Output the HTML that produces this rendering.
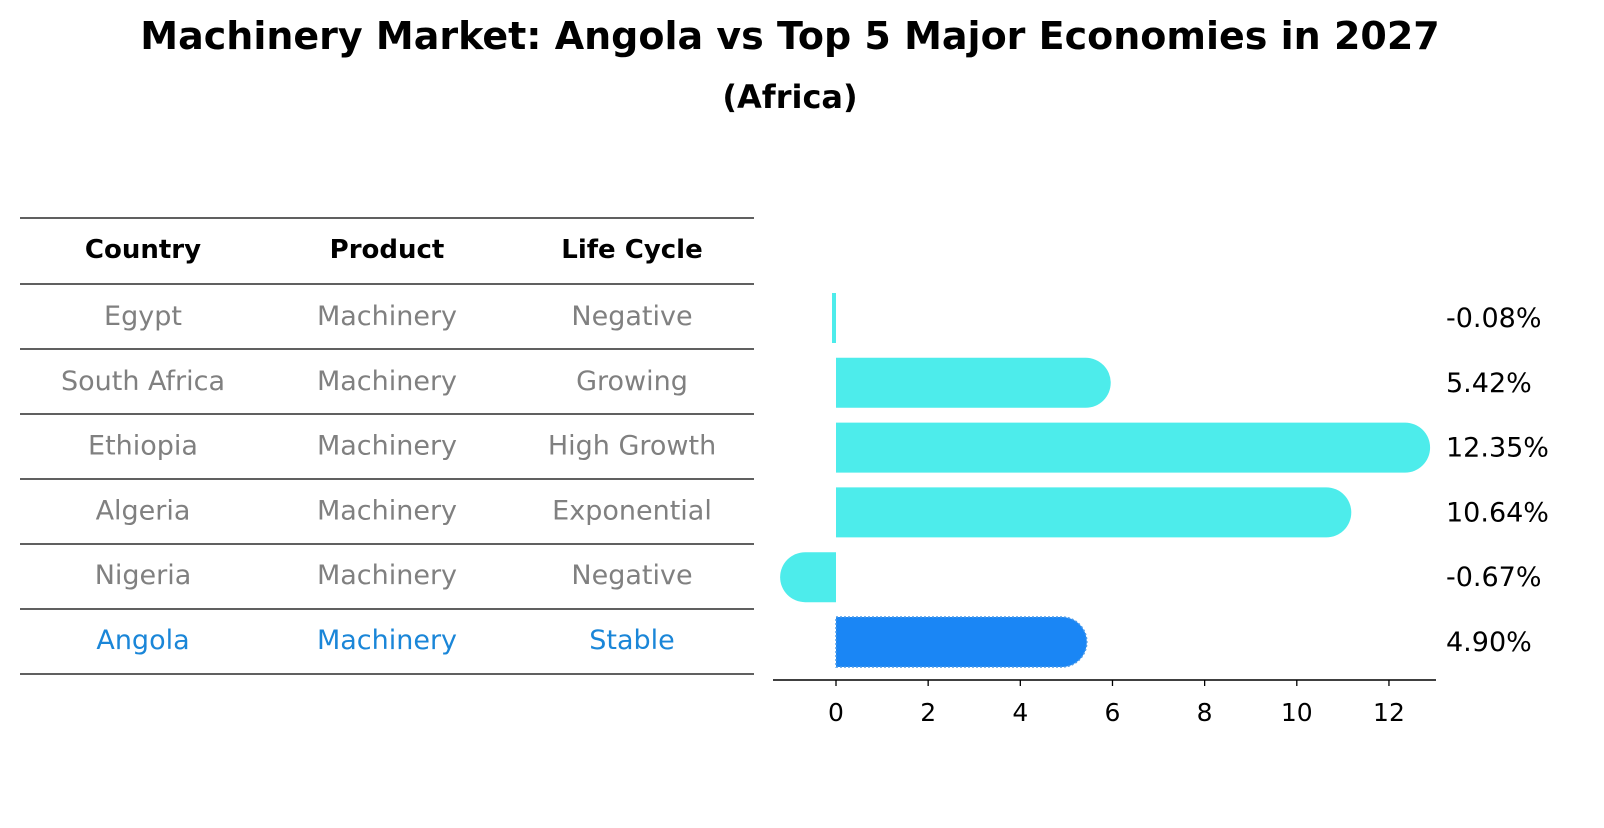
<!DOCTYPE html>
<html><head><meta charset="utf-8"><style>
body{margin:0;background:#fff;font-family:"Liberation Sans","DejaVu Sans",sans-serif;overflow:hidden}
svg text{font-family:"DejaVu Sans","Liberation Sans",sans-serif}
</style></head><body>
<svg id="chart" width="1604" height="823" viewBox="0 0 1604 823">
<text x="790" y="49" text-anchor="middle" font-size="38" font-weight="bold">Machinery Market: Angola vs Top 5 Major Economies in 2027</text>
<text x="790" y="108" text-anchor="middle" font-size="32" font-weight="bold">(Africa)</text>
<g id="table"></g>
<g id="bars"></g>
</svg>
<script>
const countries=["Egypt","South Africa","Ethiopia","Algeria","Nigeria","Angola"];
const products=["Machinery","Machinery","Machinery","Machinery","Machinery","Machinery"];
const lifeCycles=["Negative","Growing","High Growth","Exponential","Negative","Stable"];
const growth=[-0.08,5.42,12.35,10.64,-0.67,4.90];
const valueLabels=["-0.08%","5.42%","12.35%","10.64%","-0.67%","4.90%"];
const xTicks=[0,2,4,6,8,10,12];

const NS="http://www.w3.org/2000/svg";
function mk(tag,attrs,parent,text){const e=document.createElementNS(NS,tag);for(const k in attrs)e.setAttribute(k,attrs[k]);if(text!==undefined)e.textContent=text;parent.appendChild(e);return e;}
const table=document.getElementById('table');
const rowY=i=>316+i*64.8;
const colX=[143,387,632];
const hdr=["Country","Product","Life Cycle"];
hdr.forEach((h,j)=>{const t=mk('text',{x:colX[j],y:258,'text-anchor':'middle','font-size':26,'font-weight':'bold'},table,h);

});
for(let k=0;k<=7;k++){const y=k==0?218:284+(k-1)*65;
const l=mk('line',{x1:20,x2:754,y1:y,y2:y,stroke:'#000','stroke-width':1.2},table);

}
countries.forEach((c,i)=>{const col=i==5?'#1a86d8':'#808080';
[c,products[i],lifeCycles[i]].forEach((v,j)=>{const t=mk('text',{x:colX[j],y:rowY(i)+9,'text-anchor':'middle','font-size':27,fill:col},table,v);

});});

const bars=document.getElementById('bars');
const x0=836,pxPer=46.08;
const xs=v=>x0+v*pxPer;
const h=50,r=25;
growth.forEach((v,i)=>{const cy=rowY(i)+2,top=cy-h/2;const end=xs(v);const col=i==5?'#1a86f5':'#4deceb';
let d;
const L=Math.abs(end-x0);
if(L<10){const w=Math.max(L,4);d=`M${x0-(v<0?w:0)} ${top}h${w}v${h}h${-w}Z`;}
else if(v>=0){d=`M${x0} ${top}H${end}A${r} ${r} 0 0 1 ${end} ${top+h}H${x0}Z`;}
else{d=`M${x0} ${top}H${end}A${r} ${r} 0 0 0 ${end} ${top+h}H${x0}Z`;}
const p=mk('path',{d,fill:col},bars);
if(i==5){p.setAttribute('stroke','#4d9be8');p.setAttribute('stroke-dasharray','2 2');p.setAttribute('stroke-width','1.5');}


const t=mk('text',{x:1446,y:cy+9,'font-size':27},bars,valueLabels[i]);

});
const ax=mk('line',{x1:773,x2:1436,y1:680,y2:680,stroke:'#000','stroke-width':1.5},bars);


xTicks.forEach(v=>{const tk=mk('line',{x1:xs(v),x2:xs(v),y1:680,y2:686,stroke:'#000','stroke-width':1.3},bars);


const t=mk('text',{x:xs(v),y:721,'text-anchor':'middle','font-size':25},bars,String(v));

});
</script>
</body></html>
